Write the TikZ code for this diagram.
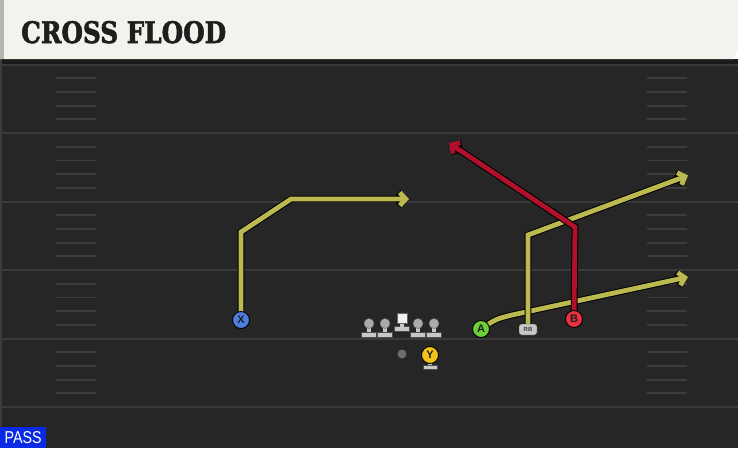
\documentclass[tikz,border=0pt]{standalone}
\usepackage{fontspec}
\setmainfont{Liberation Sans}
\newfontfamily\titlefont{DejaVu Serif}[BoldFont={DejaVu Serif Bold}, BoldFeatures={FakeBold=2.2}]
\usetikzlibrary{arrows.meta}
\definecolor{headbg}{HTML}{F4F2EC}
\definecolor{headedge}{HTML}{B5B5B0}
\definecolor{titleink}{HTML}{1E1E1E}
\definecolor{fieldbg}{HTML}{262626}
\definecolor{fielddark}{HTML}{1B1B1B}
\definecolor{yardline}{HTML}{3A3A3A}
\definecolor{hashcol}{HTML}{3D3D3D}
\definecolor{routeyel}{HTML}{BBB950}
\definecolor{routered}{HTML}{B0102C}
\definecolor{xblue}{HTML}{4C7EE0}
\definecolor{agreen}{HTML}{6BCF3A}
\definecolor{bred}{HTML}{E8323F}
\definecolor{yyel}{HTML}{F2C21A}
\definecolor{passblue}{HTML}{0A2BE6}
\definecolor{lmhead}{HTML}{ABABAB}
\definecolor{lmbody}{HTML}{C8C8C8}
\definecolor{qbdot}{HTML}{6E6E6E}
\pgfdeclarelayer{bg}
\pgfdeclarelayer{routes}
\pgfsetlayers{bg,routes,main}
\tikzset{
  player/.style={circle, draw=black, line width=0.9pt, minimum size=17pt, inner sep=0pt,
    font=\bfseries\fontsize{11}{11}\selectfont, text=titleink},
  route/.style={line width=4.8pt, draw=#1, line join=miter,
    -{Straight Barb[length=6pt,width=13pt]},
    preaction={draw=black, line width=6.8pt, -{Straight Barb[length=6pt,width=13pt]}}},
  lmheadstyle/.style={circle, fill=lmhead, draw=black!60, line width=0.4pt, minimum size=10pt, inner sep=0pt},
  lineman/.pic={
    \fill[lmbody, draw=black!70, line width=0.4pt] (-7.5,8.5) rectangle (7.5,13.5);
    \fill[lmbody] (-2,3) rectangle (2,8.5);
    \node[lmheadstyle] (-head) at (0,0) {};
  },
  hashmark/.style={draw=hashcol, line width=1.8pt},
  yardstyle/.style={draw=yardline, line width=2pt}
}
\begin{document}
\begin{tikzpicture}[x=1pt,y=-1pt]
\useasboundingbox (0,0) rectangle (738,448);
\begin{pgfonlayer}{bg}
  % field
  \fill[fieldbg] (0,59) rectangle (738,448);
  \fill[fielddark] (0,59) rectangle (738,63.5);
  \fill[yardline] (0,59) rectangle (2,448);
  % header
  \fill[headbg] (0,0) -- (738,0) -- (738,47) -- (734,59) -- (0,59) -- cycle;
  \fill[headedge] (0,0) rectangle (4,59);
  % yard lines
  \foreach \k in {0,...,5} {
    \pgfmathsetmacro{\yl}{64.5+68.5*\k}
    \draw[yardstyle] (2,\yl) -- (738,\yl);
  }
  % hash marks
  \foreach \k in {0,...,4} {
    \foreach \h in {1,...,4} {
      \pgfmathsetmacro{\yh}{64.5+68.5*\k+13.7*\h}
      \draw[hashmark] (56,\yh) -- (96,\yh);
      \draw[hashmark] (647,\yh) -- (687,\yh);
    }
  }
\end{pgfonlayer}

% title
\node[anchor=base west, inner sep=0pt, text=titleink] (title) at (21,43)
  {\resizebox{205pt}{22pt}{\titlefont\bfseries CROSS FLOOD}};

% play type tag
\node[fill=passblue, anchor=south west, minimum width=46pt, minimum height=21pt, inner sep=0pt, text=white] (pass) at (0,448)
  {\resizebox{37pt}{12pt}{PASS}};

% players
\node[player, fill=xblue] (X) at (241,320) {X};
\node[player, fill=agreen] (A) at (481,329) {A};
\node[player, fill=bred] (B) at (574,319) {B};
\node[draw=black!80, fill=lmbody, rounded corners=2.5pt, minimum width=18pt, minimum height=11pt, inner sep=0pt,
  font=\bfseries\fontsize{6}{6}\selectfont, text=black!75] (RB) at (528,329.5) {RB};

% Y with stand
\fill[lmbody, draw=black!70, line width=0.4pt] (423,365) rectangle (437,369.5);
\fill[lmbody] (428.3,362) rectangle (431.7,365);
\node[player, fill=yyel] (Y) at (430,355) {Y};

% QB
\node[circle, fill=qbdot, minimum size=9pt, inner sep=0pt] (QB) at (402,354) {};

% offensive line
\pic (lt) at (369,323.5) {lineman};
\pic (lg) at (385,323.5) {lineman};
\pic (rg) at (418,323.5) {lineman};
\pic (rt) at (434,323.5) {lineman};
\fill[lmbody, draw=black!70, line width=0.4pt] (394.5,326.5) rectangle (409.5,331.5);
\fill[lmbody] (400,322) rectangle (404,326.5);
\node[fill=white!94!black, draw=black!60, line width=0.4pt, minimum size=10pt, inner sep=0pt] (C) at (402,318) {};

% routes
\coordinate (x1) at (241,232);
\coordinate (x2) at (291,199);
\coordinate (xend) at (409,199);
\coordinate (b1) at (575,227);
\coordinate (bend) at (449,143);
\coordinate (a1) at (512,315);
\coordinate (aend) at (688,277);
\coordinate (r1) at (528,235);
\coordinate (rend) at (688,175.5);
\begin{pgfonlayer}{routes}
  \draw[route=routeyel] (X.center) -- (x1) -- (x2) -- (xend);
  \draw[route=routeyel] (A.center) .. controls (496,319) .. (a1) -- (aend);
  \draw[route=routeyel] (RB.center) -- (r1) -- (rend);
  \draw[route=routered] (B.center) -- (b1) -- (bend);
\end{pgfonlayer}
\end{tikzpicture}
\end{document}
